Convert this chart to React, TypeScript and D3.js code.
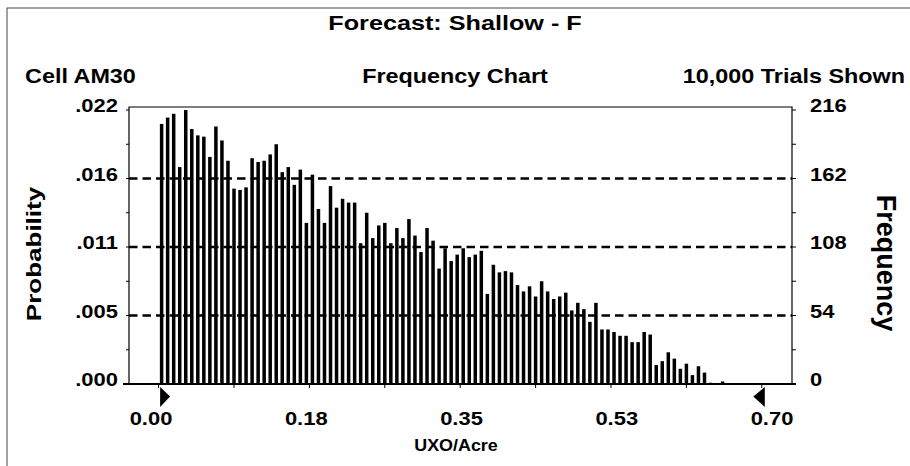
import * as d3 from 'd3'

// Crystal Ball forecast histogram, 10,000 trials
const frequency = [
  205, 210, 213, 171, 216, 201, 196, 195, 179, 203, 192, 176, 154, 153, 155, 178, 175, 176, 181, 189,
  167, 171, 157, 169, 127, 165, 138, 127, 156, 139, 146, 143, 143, 111, 135,
  115, 125, 127, 111, 123, 115, 130, 117, 104, 123, 113, 91, 107, 97, 102, 107, 100, 102, 105, 71,
  94, 88, 89, 88, 78, 73, 77, 69, 81, 73, 67, 69, 72, 58, 64,
  59, 49, 64, 43, 43, 41, 38, 38, 33, 33, 41, 39, 15, 18, 25, 20, 12, 16, 7, 14, 9, 1, 0, 2,
]
const binWidth = 0.007
const xDomain = [0, 0.7]
const xTicks = [0, 0.175, 0.35, 0.525, 0.7]
const xTickLabels = ['0.00', '0.18', '0.35', '0.53', '0.70']
const freqTicks = [0, 54, 108, 162, 216]
const probLabels = ['.000', '.005', '.011', '.016', '.022']
const gridTicks = [54, 108, 162]
const trials = 10000

const FONT = "'Liberation Sans', Arial, Helvetica, sans-serif"

type LabelProps = {
  x: number
  y: number
  text: string
  size: number
  stretch?: number
  anchor?: 'start' | 'middle' | 'end'
  rotate?: number
}

function Label({x, y, text, size, stretch = 1.2, anchor = 'start', rotate = 0}: LabelProps) {
  return (
    <text
      transform={`translate(${x},${y}) rotate(${rotate}) scale(${stretch},1)`}
      textAnchor={anchor}
      fontSize={size}
      fontWeight={700}
    >
      {text}
    </text>
  )
}

export default function App() {
  const width = 910
  const height = 466

  const frame = {left: 129, right: 792, top: 107, bottom: 384}

  const x = d3.scaleLinear().domain(xDomain).range([158.6, 761.8])
  // the end labels sit a little outside the grabbers
  const xLabel = d3.scaleLinear().domain(xDomain).range([151, 772])
  const y = d3.scaleLinear().domain([0, 216]).range([384, 110])

  const barW = 3.5
  const minorY = d3.range(0, 217, 27)
  const minorX = d3.range(0, 0.7001, 0.0875)

  return (
    <svg
      width={width}
      height={height}
      viewBox={`0 0 ${width} ${height}`}
      style={{position: 'absolute', left: 0, top: 0, background: '#fff'}}
      fontFamily={FONT}
    >
      <rect x={7} y={8} width={width} height={height} fill="none" stroke="#444" strokeWidth={1} />

      <Label x={455} y={30} text="Forecast: Shallow - F" size={21} anchor="middle" />
      <Label x={25} y={83} text="Cell AM30" size={19.5} />
      <Label x={455} y={83} text="Frequency Chart" size={19.5} anchor="middle" />
      <Label x={905} y={83} text={`${d3.format(',')(trials)} Trials Shown`} size={19.5} anchor="end" />

      {/* plot frame */}
      <path
        d={`M${frame.left},${frame.bottom}V${frame.top}H${frame.right}V${frame.bottom}`}
        fill="none"
        stroke="#000"
        strokeWidth={1.2}
      />

      {/* bars */}
      <g fill="#000">
        {frequency.map((f, i) => {
          const cx = x(i * binWidth + binWidth / 2)
          return f > 0 ? (
            <rect key={i} x={cx - barW / 2} y={y(f)} width={barW} height={y(0) - y(f)} />
          ) : null
        })}
      </g>

      {/* dashed grid */}
      <g stroke="#000" strokeWidth={2.3} strokeDasharray="8.5 5">
        {gridTicks.map(t => (
          <line key={t} x1={frame.left} x2={frame.right} y1={y(t)} y2={y(t)} />
        ))}
      </g>

      {/* baseline */}
      <line x1={123} x2={796} y1={y(0)} y2={y(0)} stroke="#000" strokeWidth={2} />

      {/* side ticks */}
      <g stroke="#000" strokeWidth={1}>
        {minorY.map(t => (
          <g key={t}>
            <line x1={frame.left - 3} x2={frame.left} y1={y(t)} y2={y(t)} />
            <line x1={frame.right} x2={frame.right + 4} y1={y(t)} y2={y(t)} />
          </g>
        ))}
        {minorX.map(t => (
          <line key={t} x1={x(t)} x2={x(t)} y1={y(0)} y2={y(0) + 4} />
        ))}
      </g>

      {/* certainty grabbers */}
      <path
        d={`M${x(0) + 1.5},387L${x(0) + 11.5},396.5L${x(0) + 1.5},407Z`}
        fill="#000"
      />
      <path
        d={`M${x(0.7) + 3},387L${x(0.7) - 8.5},396.5L${x(0.7) + 3},407Z`}
        fill="#000"
      />

      {/* left / right axis labels */}
      {freqTicks.map((t, i) => (
        <g key={t}>
          <Label x={118} y={y(t) + 2} text={probLabels[i]} size={18} stretch={1.22} anchor="end" />
          <Label x={810} y={y(t) + 2} text={String(t)} size={18} stretch={1.22} />
        </g>
      ))}

      {xTicks.map((t, i) => (
        <Label key={t} x={xLabel(t)} y={425} text={xTickLabels[i]} size={18} stretch={1.22} anchor="middle" />
      ))}

      <Label x={456} y={451} text="UXO/Acre" size={16} stretch={1.12} anchor="middle" />
      <Label x={41} y={254} text="Probability" size={20} stretch={1.3} anchor="middle" rotate={-90} />
      <Label x={877} y={263} text="Frequency" size={27} stretch={1} anchor="middle" rotate={90} />
    </svg>
  )
}
